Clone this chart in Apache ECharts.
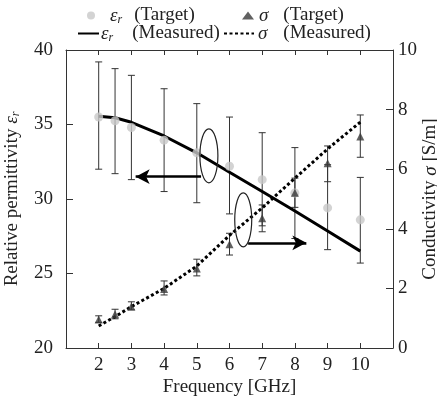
<!DOCTYPE html>
<html>
<head>
<meta charset="utf-8">
<script src="https://cdn.jsdelivr.net/npm/echarts@6/dist/echarts.min.js"></script>
<style>
  html, body { margin: 0; padding: 0; background: #fff; }
  #chart { width: 437px; height: 399px; }
</style>
</head>
<body>
<div id="chart"></div>
<script>
const freqs = [2, 2.5, 3, 4, 5, 6, 7, 8, 9, 10]
const epsTarget = [35.5, 35.25, 34.8, 33.95, 33.1, 32.2, 31.3, 30.4, 29.4, 28.6]
const epsLow = [32.0, 31.7, 31.3, 30.5, 29.75, 29.0, 28.2, 27.35, 26.6, 25.7]
const epsHigh = [39.2, 38.75, 38.3, 37.4, 36.4, 35.5, 34.45, 33.45, 32.3, 31.45]
const epsMeasured = [35.55, 35.45, 35.15, 34.23, 33.1, 31.8, 30.5, 29.2, 27.85, 26.5]
const sigmaTarget = [0.96, 1.13, 1.39, 1.98, 2.67, 3.48, 4.35, 5.21, 6.2, 7.1]
const sigmaLow = [0.86, 0.98, 1.28, 1.78, 2.42, 3.12, 3.9, 4.72, 5.58, 6.4]
const sigmaHigh = [1.08, 1.3, 1.55, 2.25, 2.98, 3.85, 4.8, 5.7, 6.78, 7.82]
const sigmaMeasured = [0.74, 1.05, 1.39, 2.0, 2.75, 3.78, 4.7, 5.7, 6.68, 7.58]
const xTicks = [2, 3, 4, 5, 6, 7, 8, 9, 10]

const font = "'Liberation Serif', 'Times New Roman', serif"
const fontSize = 19
const textColor = '#222'
const axisColor = '#333'

function richStyles(gap) {
  return {
    i: { fontFamily: font, fontSize: fontSize, fontStyle: 'italic', color: textColor },
    s: { fontFamily: font, fontSize: 12, fontStyle: 'italic', color: textColor, padding: [8, 0, 0, 0] },
    t: { fontFamily: font, fontSize: fontSize, color: textColor, padding: [0, 0, 0, gap] },
  }
}

const chart = echarts.init(document.getElementById('chart'))

function errorSeries(name, yAxisIndex, low, high) {
  return {
    name: name,
    type: 'custom',
    yAxisIndex: yAxisIndex,
    z: 1,
    silent: true,
    data: freqs.map((f, i) => [f, low[i], high[i]]),
    encode: { x: 0, y: [1, 2] },
    renderItem: (params, api) => {
      const x = api.value(0)
      const lo = api.coord([x, api.value(1)])
      const hi = api.coord([x, api.value(2)])
      const w = 3.5
      const style = { stroke: axisColor, lineWidth: 1 }
      return {
        type: 'group',
        children: [
          { type: 'line', shape: { x1: lo[0], y1: lo[1], x2: hi[0], y2: hi[1] }, style: style },
          { type: 'line', shape: { x1: lo[0] - w, y1: lo[1], x2: lo[0] + w, y2: lo[1] }, style: style },
          { type: 'line', shape: { x1: hi[0] - w, y1: hi[1], x2: hi[0] + w, y2: hi[1] }, style: style },
        ],
      }
    },
  }
}

// one legend per entry, so each can sit where the reference puts it
function legendAt(name, left, top, w, h, textGap, gap, hideSymbol) {
  return {
    data: [name],
    left: left,
    top: top,
    itemWidth: w,
    itemHeight: h,
    itemGap: 0,
    padding: 0,
    selectedMode: false,
    itemStyle: hideSymbol ? { opacity: 0 } : {},
    formatter: (n) => {
      const parts = n.split(' ')
      const sym = parts[0] === 'εr' ? '{i|ε}{s|r}' : '{i|σ}'
      return sym + '{t|' + parts[1] + '}'
    },
    textStyle: {
      fontFamily: font,
      fontSize: fontSize,
      color: textColor,
      padding: [0, 0, 0, textGap],
      rich: richStyles(gap),
    },
  }
}

const names = ['εr (Target)', 'σ (Target)', 'εr (Measured)', 'σ (Measured)']

chart.setOption({
  animation: false,
  textStyle: { fontFamily: font },
  legend: [
    legendAt(names[0], 87, 6, 12, 8, 8, 12, false),
    legendAt(names[1], 242, 6, 12, 8, 0, 15, false),
    legendAt(names[2], 77, 24, 21, 8, -3, 19, true),
    legendAt(names[3], 223, 24, 30, 8, -1, 16, true),
  ],
  grid: { left: 66, right: 44, top: 50, bottom: 51, containLabel: false, outerBoundsMode: 'none' },
  xAxis: [
    {
      type: 'value',
      min: 1,
      max: 11,
      interval: 1,
      name: 'Frequency [GHz]',
      nameLocation: 'middle',
      nameGap: 30,
      nameMoveOverlap: false,
      nameTextStyle: { fontFamily: font, fontSize: fontSize, color: textColor },
      axisLine: { lineStyle: { color: axisColor } },
      axisTick: { inside: true, length: 5, lineStyle: { color: axisColor } },
      axisLabel: {
        fontFamily: font,
        fontSize: fontSize,
        color: textColor,
        margin: 8,
        formatter: (v) => (xTicks.indexOf(v) >= 0 ? String(v) : ''),
      },
      splitLine: { show: false },
    },
    {
      type: 'value',
      position: 'top',
      min: 1,
      max: 11,
      interval: 1,
      axisLine: { lineStyle: { color: axisColor } },
      axisTick: { inside: true, length: 5, lineStyle: { color: axisColor } },
      axisLabel: { show: false },
      splitLine: { show: false },
    },
  ],
  yAxis: [
    {
      type: 'value',
      min: 20,
      max: 40,
      interval: 5,
      name: 'Relative permittivity {i|ε}{s|r}',
      nameLocation: 'middle',
      nameRotate: 90,
      nameGap: 44,
      nameMoveOverlap: false,
      nameTextStyle: { fontFamily: font, fontSize: fontSize, color: textColor, rich: richStyles(0) },
      axisLine: { show: true, lineStyle: { color: axisColor } },
      axisTick: { show: true, inside: true, length: 7, lineStyle: { color: axisColor } },
      axisLabel: { fontFamily: font, fontSize: fontSize, color: textColor, margin: 13 },
      splitLine: { show: false },
    },
    {
      type: 'value',
      min: 0,
      max: 10,
      interval: 2,
      position: 'right',
      name: 'Conductivity {i|σ} [S/m]',
      nameLocation: 'middle',
      nameRotate: 90,
      nameGap: 28,
      nameMoveOverlap: false,
      nameTextStyle: { fontFamily: font, fontSize: fontSize, color: textColor, rich: richStyles(0) },
      axisLine: { show: true, lineStyle: { color: axisColor } },
      axisTick: { show: true, inside: true, length: 7, lineStyle: { color: axisColor } },
      axisLabel: { fontFamily: font, fontSize: fontSize, color: textColor, margin: 5 },
      splitLine: { show: false },
    },
  ],
  series: [
    errorSeries('epsErr', 0, epsLow, epsHigh),
    errorSeries('sigmaErr', 1, sigmaLow, sigmaHigh),
    {
      name: names[2],
      type: 'line',
      yAxisIndex: 0,
      z: 3,
      symbol: 'none',
      data: freqs.map((f, i) => [f, epsMeasured[i]]),
      lineStyle: { color: '#000', width: 3 },
      itemStyle: { color: '#000' },
      markLine: {
        silent: true,
        symbol: ['none', 'arrow'],
        symbolSize: [11, 14],
        label: { show: false },
        lineStyle: { color: '#000', width: 2.5, type: 'solid' },
        data: [[{ coord: [5.13, 31.5] }, { coord: [3.13, 31.5] }]],
      },
    },
    {
      name: names[3],
      type: 'line',
      yAxisIndex: 1,
      z: 3,
      symbol: 'none',
      data: freqs.map((f, i) => [f, sigmaMeasured[i]]),
      lineStyle: { color: '#000', width: 3, type: [3, 2.5] },
      itemStyle: { color: '#000' },
      markLine: {
        silent: true,
        symbol: ['none', 'arrow'],
        symbolSize: [11, 14],
        label: { show: false },
        lineStyle: { color: '#000', width: 2.5, type: 'solid' },
        data: [[{ coord: [6.57, 3.53] }, { coord: [8.35, 3.53] }]],
      },
    },
    {
      name: names[0],
      type: 'scatter',
      yAxisIndex: 0,
      z: 4,
      symbol: 'circle',
      symbolSize: 9,
      data: freqs.map((f, i) => [f, epsTarget[i]]),
      itemStyle: { color: '#c8c8c8' },
    },
    {
      name: names[1],
      type: 'scatter',
      yAxisIndex: 1,
      z: 5,
      symbol: 'triangle',
      symbolSize: 8,
      data: freqs.map((f, i) => [f, sigmaTarget[i]]),
      itemStyle: { color: '#3a3a3a' },
    },
  ],
})

// annotation ellipses placed through the axes
function ellipseAt(point, gridIndexes, rx, ry) {
  const c = chart.convertToPixel(gridIndexes, point)
  return {
    type: 'ellipse',
    shape: { cx: c[0], cy: c[1], rx: rx, ry: ry },
    style: { fill: 'none', stroke: '#222', lineWidth: 1.2 },
    z: 10,
  }
}

chart.setOption({
  graphic: [
    ellipseAt([5.37, 32.9], { xAxisIndex: 0, yAxisIndex: 0 }, 9, 27),
    ellipseAt([6.42, 4.3], { xAxisIndex: 0, yAxisIndex: 1 }, 8.5, 27),
  ],
})

window.addEventListener('resize', () => chart.resize())
</script>
</body>
</html>
